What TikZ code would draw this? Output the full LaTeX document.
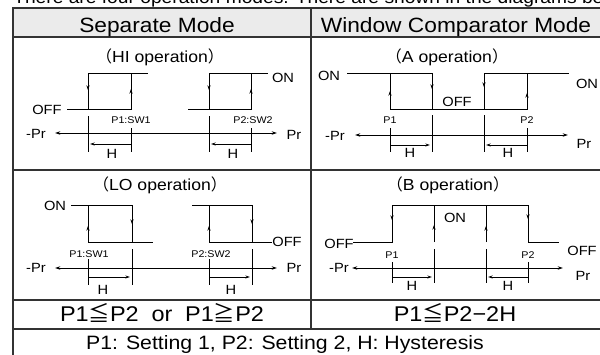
\documentclass[tikz,border=0pt]{standalone}
\usepackage{fontspec}
\setmainfont{Liberation Sans}[FakeStretch=1.1]
\newfontfamily\jpfont{Noto Sans CJK JP}
\usetikzlibrary{arrows.meta}

\definecolor{rulegray}{HTML}{333333}
\definecolor{headgray}{HTML}{EBEBEB}

\tikzset{
  tline/.style={draw=rulegray, line width=0.9pt},
  sigline/.style={line width=0.7pt},
  dirtip/.style={sigline, -{Stealth[length=3.5pt,width=2.4pt]}},
  prline/.style={sigline, {Stealth[length=4pt,width=2.6pt]}-{Stealth[length=4pt,width=2.6pt]}},
  harrow/.style={sigline, -{Stealth[length=3.5pt,width=2.2pt]}},
  headtxt/.style={anchor=base, inner sep=0pt, font=\fontsize{15.5}{18}\selectfont},
  optxt/.style={anchor=base, inner sep=0pt, font=\fontsize{12}{14}\selectfont},
  lvltxt/.style={anchor=base, inner sep=0pt, font=\fontsize{10}{12}\selectfont},
  sptxt/.style={anchor=base, inner sep=0pt, font=\fontsize{7.3}{9}\selectfont},
  condtxt/.style={anchor=base, inner sep=0pt, font=\fontsize{16}{19}\selectfont},
}

\begin{document}
\begin{tikzpicture}[x=0.75pt,y=-0.75pt]
\useasboundingbox (0,0) rectangle (600,354);
\clip (0,0) rectangle (600,354);

\node[condtxt, anchor=base west, font=\fontsize{13.1}{16}\selectfont] (intro) at (13,3) {There are four operation modes. There are shown in the diagrams below.};

% table
\fill[headgray] (13,8) rectangle (602,37);
\draw[tline] (13,360) -- (13,8) -- (602,8) -- (602,360);
\draw[tline] (13,37) -- (602,37);
\draw[tline] (13,170) -- (602,170);
\draw[tline] (13,300) -- (602,300);
\draw[tline] (13,329) -- (602,329);
\draw[tline] (311,8) -- (311,329);

\node[headtxt] (sephead) at (157,32) {Separate Mode};
\node[headtxt] (winhead) at (456,32) {Window Comparator Mode};

% HI operation
\node[optxt] (hiop) at (160,62) {{\jpfont （}HI operation{\jpfont ）}};
\draw[sigline] (67,109) -- (131,109) -- (131,73);
\draw[sigline] (88,109) -- (88,73) -- (148,73);
\draw[dirtip] (88,73) -- (88,90);
\draw[dirtip] (131,109) -- (131,89);
\draw[sigline] (188,109) -- (251,109) -- (251,73);
\draw[sigline] (209,109) -- (209,73) -- (268,73);
\draw[dirtip] (209,73) -- (209,90);
\draw[dirtip] (251,109) -- (251,89);
\node[lvltxt] (hioff) at (47,114) {OFF};
\node[lvltxt] (hion) at (283,82) {ON};
\draw[prline] (55,133) -- (277,133);
\node[lvltxt] (himpr) at (36,138) {-Pr};
\node[lvltxt] (hipr) at (294,139) {Pr};
\draw[sigline] (88,116) -- (88,152);
\draw[sigline] (131,128) -- (131,152);
\draw[sigline] (209,116) -- (209,152);
\draw[sigline] (251,128) -- (251,152);
\node[sptxt] (hip1) at (131,123) {P1:SW1};
\node[sptxt] (hip2) at (253,123) {P2:SW2};
\draw[harrow] (131,144) -- (90,144);
\node[lvltxt] (hih1) at (112,158) {H};
\draw[harrow] (251,144) -- (211,144);
\node[lvltxt] (hih2) at (233,158) {H};

% A operation
\node[optxt] (aop) at (447,62) {{\jpfont （}A operation{\jpfont ）}};
\node[lvltxt] (aonl) at (329,80) {ON};
\draw[sigline] (347,73) -- (432,73) -- (432,109);
\draw[sigline] (390,73) -- (390,109) -- (527,109) -- (527,73);
\draw[sigline] (484,109) -- (484,73) -- (569,73);
\draw[dirtip] (390,109) -- (390,91);
\draw[dirtip] (432,73) -- (432,89);
\draw[dirtip] (484,73) -- (484,87);
\draw[dirtip] (527,109) -- (527,93);
\node[lvltxt] (aoff) at (457,106) {OFF};
\node[lvltxt] (aonr) at (587,88) {ON};
\draw[prline] (355,135) -- (568,135);
\node[lvltxt] (ampr) at (335,140) {-Pr};
\node[lvltxt] (apr) at (584,148) {Pr};
\draw[sigline] (390,128) -- (390,152);
\draw[sigline] (432,115) -- (432,152);
\draw[sigline] (484,115) -- (484,152);
\draw[sigline] (527,128) -- (527,152);
\node[sptxt] (ap1) at (390,123) {P1};
\node[sptxt] (ap2) at (527,123) {P2};
\draw[harrow] (390,145) -- (430,145);
\node[lvltxt] (ah1) at (410,157) {H};
\draw[harrow] (527,145) -- (486,145);
\node[lvltxt] (ah2) at (508,157) {H};

% LO operation
\node[optxt] (loop) at (160,190) {{\jpfont （}LO operation{\jpfont ）}};
\node[lvltxt] (loon) at (55,210) {ON};
\draw[sigline] (71,205) -- (132,205) -- (132,242);
\draw[sigline] (88,205) -- (88,242) -- (153,242);
\draw[dirtip] (88,242) -- (88,226);
\draw[dirtip] (132,205) -- (132,224);
\draw[sigline] (192,205) -- (252,205) -- (252,242);
\draw[sigline] (209,205) -- (209,242) -- (272,242);
\draw[dirtip] (209,242) -- (209,226);
\draw[dirtip] (252,205) -- (252,224);
\node[lvltxt] (looff) at (287,246) {OFF};
\draw[prline] (55,268) -- (277,268);
\node[lvltxt] (lompr) at (36,272) {-Pr};
\node[lvltxt] (lopr) at (294,272) {Pr};
\draw[sigline] (88,259) -- (88,285);
\draw[sigline] (132,249) -- (132,285);
\draw[sigline] (209,259) -- (209,285);
\draw[sigline] (252,249) -- (252,285);
\node[sptxt] (lop1) at (89,257) {P1:SW1};
\node[sptxt] (lop2) at (211,257) {P2:SW2};
\draw[harrow] (88,277) -- (130,277);
\node[lvltxt] (loh1) at (103,294) {H};
\draw[harrow] (209,277) -- (250,277);
\node[lvltxt] (loh2) at (231,294) {H};

% B operation
\node[optxt] (bop) at (448,190) {{\jpfont （}B operation{\jpfont ）}};
\node[lvltxt] (boffl) at (339,248) {OFF};
\draw[sigline] (353,242) -- (392,242) -- (392,205) -- (528,205) -- (528,242) -- (559,242);
\draw[sigline] (434,205) -- (434,242);
\draw[sigline] (486,205) -- (486,242);
\draw[dirtip] (392,205) -- (392,220);
\draw[dirtip] (434,242) -- (434,225);
\draw[dirtip] (486,242) -- (486,226);
\draw[dirtip] (528,205) -- (528,219);
\node[lvltxt] (bon) at (455,222) {ON};
\node[lvltxt] (boffr) at (582,255) {OFF};
\draw[prline] (352,268) -- (563,268);
\node[lvltxt] (bmpr) at (339,272) {-Pr};
\node[lvltxt] (bpr) at (583,280) {Pr};
\draw[sigline] (392,262) -- (392,283);
\draw[sigline] (434,249) -- (434,283);
\draw[sigline] (486,249) -- (486,283);
\draw[sigline] (528,262) -- (528,283);
\node[sptxt] (bp1) at (392,258) {P1};
\node[sptxt] (bp2) at (528,258) {P2};
\draw[harrow] (392,277) -- (432,277);
\node[lvltxt] (bh1) at (412,290) {H};
\draw[harrow] (528,277) -- (488,277);
\node[lvltxt] (bh2) at (508,290) {H};

% conditions
\node[condtxt] (sepcond) at (162,321) {P1{\jpfont ≦}P2\hspace{0.6em}or\hspace{0.6em}P1{\jpfont ≧}P2};
\node[condtxt] (wincond) at (455,321) {P1{\jpfont ≦}P2−2H};
\node[condtxt, font=\fontsize{14.5}{17}\selectfont] (legend) at (285,349) {P1: Setting 1, P2: Setting 2, H: Hysteresis};
\end{tikzpicture}
\end{document}
